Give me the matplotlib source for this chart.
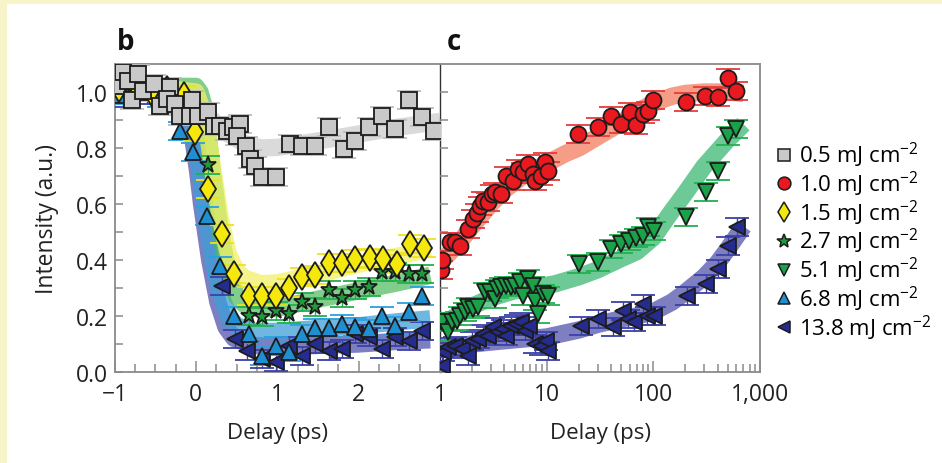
import matplotlib
matplotlib.use('Agg')
import matplotlib.pyplot as plt
from matplotlib.lines import Line2D
from matplotlib.patches import Rectangle
from matplotlib.ticker import FixedLocator, NullFormatter

plt.rcParams['font.family'] = ['Open Sans', 'DejaVu Sans']
plt.rcParams['mathtext.fontset'] = 'custom'
plt.rcParams['mathtext.rm'] = 'Open Sans'
plt.rcParams['mathtext.fallback'] = 'stixsans'

# ---- panel b (linear delay, ps) ----
sq_x = [-0.97, -0.89, -0.83, -0.71, -0.79, -0.645, -0.52, -0.44, -0.32, -0.36, -0.255, -0.19,
        -0.05, -0.07, 0.03, 0.155, 0.22, 0.30, 0.38, 0.46, 0.545, 0.505, 0.61, 0.67, 0.73,
        0.81, 0.98, 1.16, 1.305, 1.47, 1.63, 1.82, 1.96, 2.13, 2.29, 2.45, 2.62, 2.78, 2.93]
sq_y = [1.02, 1.07, 1.04, 1.064, 0.97, 1.005, 1.03, 0.95, 1.017, 0.975, 0.957, 0.915,
        0.97, 0.915, 0.915, 0.927, 0.88, 0.88, 0.862, 0.874, 0.886, 0.844, 0.808, 0.76, 0.737,
        0.695, 0.695, 0.814, 0.808, 0.808, 0.874, 0.796, 0.826, 0.874, 0.915, 0.868, 0.97, 0.91, 0.862]

dia_x = [-0.95, -0.75, -0.55, -0.35, -0.15, -0.01, 0.143, 0.32, 0.47, 0.65, 0.81, 0.98, 1.14,
         1.30, 1.47, 1.63, 1.80, 1.96, 2.14, 2.30, 2.47, 2.63, 2.80]
dia_y = [1.01, 1.03, 1.0, 1.01, 0.99, 0.856, 0.654, 0.493, 0.35, 0.273, 0.27, 0.273, 0.299,
         0.338, 0.346, 0.389, 0.389, 0.404, 0.406, 0.404, 0.386, 0.457, 0.442]

star_x = [-0.9, -0.6, -0.3, 0.155, 0.65, 0.81, 0.98, 1.14, 1.30, 1.47, 1.63, 1.80, 1.96,
          2.13, 2.29, 2.45, 2.62, 2.78]
star_y = [1.0, 1.01, 0.99, 0.739, 0.201, 0.195, 0.219, 0.207, 0.251, 0.231, 0.294, 0.263,
          0.294, 0.302, 0.356, 0.356, 0.35, 0.35]

up_x = [-0.95, -0.7, -0.45, -0.19, -0.03, 0.135, 0.30, 0.47, 0.65, 0.81, 0.98, 1.14, 1.30,
        1.47, 1.63, 1.80, 1.96, 2.13, 2.29, 2.45, 2.62, 2.78]
up_y = [0.99, 1.0, 0.98, 0.862, 0.785, 0.558, 0.38, 0.201, 0.136, 0.058, 0.094, 0.07, 0.136,
        0.156, 0.156, 0.171, 0.16, 0.154, 0.201, 0.165, 0.213, 0.27]

lt_x = [-0.9, -0.6, -0.35, 0.32, 0.48, 0.63, 0.81, 0.98, 1.14, 1.30, 1.47, 1.63, 1.80,
        1.96, 2.13, 2.29, 2.45, 2.62, 2.78]
lt_y = [0.98, 0.99, 0.97, 0.308, 0.118, 0.076, 0.046, 0.035, 0.094, 0.058, 0.10, 0.076,
        0.082, 0.136, 0.124, 0.082, 0.124, 0.112, 0.148]

# fitted curves, panel b
fit_sq_x = [-1, -0.5, -0.2, 0.0, 0.2, 0.4, 0.6, 0.8, 1.0, 1.5, 2.0, 2.5, 3.0]
fit_sq_y = [1.0, 1.0, 0.99, 0.96, 0.9, 0.85, 0.815, 0.80, 0.802, 0.825, 0.85, 0.875, 0.895]
fit_dia_x = [-1, -0.3, 0.0, 0.1, 0.15, 0.2, 0.3, 0.4, 0.5, 0.6, 0.8, 1.0, 1.5, 2.0, 2.5, 2.88]
fit_dia_y = [1.01, 1.01, 1.0, 0.92, 0.84, 0.74, 0.55, 0.42, 0.36, 0.335, 0.315, 0.318, 0.35,
             0.385, 0.415, 0.44]
fit_star_x = [-1, -0.3, 0.0, 0.05, 0.1, 0.15, 0.2, 0.3, 0.4, 0.5, 0.6, 0.8, 1.0, 1.5, 2.0, 2.5, 2.88]
fit_star_y = [1.02, 1.02, 1.02, 1.0, 0.95, 0.85, 0.72, 0.50, 0.35, 0.27, 0.24, 0.225, 0.228,
              0.26, 0.29, 0.32, 0.345]
fit_up_x = [-1, -0.3, -0.15, -0.05, 0.0, 0.05, 0.1, 0.2, 0.3, 0.4, 0.5, 0.7, 1.0, 1.5, 2.0, 2.5, 2.88]
fit_up_y = [1.0, 1.0, 0.98, 0.9, 0.82, 0.72, 0.6, 0.42, 0.28, 0.2, 0.165, 0.145, 0.145, 0.155,
            0.165, 0.18, 0.19]
fit_lt_x = [-1, -0.3, -0.18, -0.08, -0.03, 0.02, 0.07, 0.17, 0.27, 0.37, 0.47, 0.7, 1.0, 1.5, 2.0, 2.5, 2.88]
fit_lt_y = [1.0, 1.0, 0.98, 0.9, 0.82, 0.72, 0.6, 0.40, 0.25, 0.16, 0.12, 0.095, 0.09, 0.095,
            0.10, 0.11, 0.115]

# ---- panel c (log delay, ps) ----
circ_x = [1.02, 1.04, 1.24, 1.38, 1.54, 1.84, 2.05, 2.20, 2.37, 2.54, 2.83, 3.04, 3.26, 3.77,
          4.20, 4.85, 5.40, 6.01, 6.70, 7.45, 7.73, 8.9, 9.6, 10.3, 19.6, 30.2, 40.3, 49.9,
          61.0, 68.9, 79.3, 88.2, 98.6, 202, 302, 401, 497, 595]
circ_y = [0.365, 0.40, 0.465, 0.465, 0.451, 0.511, 0.546, 0.568, 0.594, 0.612, 0.606, 0.636,
          0.642, 0.636, 0.701, 0.683, 0.725, 0.713, 0.743, 0.707, 0.683, 0.701, 0.749, 0.719,
          0.85, 0.874, 0.913, 0.886, 0.93, 0.882, 0.921, 0.933, 0.972, 0.963, 0.987, 0.981,
          1.049, 1.005]

dn_x = [1.04, 1.20, 1.29, 1.43, 1.54, 1.71, 1.84, 2.05, 2.28, 2.63, 2.93, 3.26, 3.39, 3.77,
        4.20, 4.68, 5.0, 5.6, 6.0, 6.7, 7.45, 7.73, 8.3, 9.2, 10.3, 20.3, 30.2, 40.3, 49.9,
        59.7, 68.9, 79.3, 88.2, 101.7, 202, 311, 401, 497, 595]
dn_y = [0.177, 0.142, 0.177, 0.183, 0.201, 0.213, 0.231, 0.225, 0.231, 0.285, 0.285, 0.261,
        0.296, 0.302, 0.308, 0.302, 0.308, 0.32, 0.273, 0.332, 0.308, 0.255, 0.207, 0.279,
        0.273, 0.386, 0.392, 0.439, 0.457, 0.469, 0.477, 0.487, 0.517, 0.505, 0.553, 0.642,
        0.719, 0.844, 0.868]

lt2_x = [1.04, 1.07, 1.20, 1.38, 1.6, 1.84, 1.98, 2.28, 2.54, 2.83, 3.15, 3.51, 3.90, 4.20,
         4.68, 5.2, 5.8, 6.2, 6.9, 7.7, 8.9, 9.9, 10.3, 21, 30, 41.7, 51.6, 57.4, 66.5, 79.3,
         88, 101.7, 208, 311, 401, 497, 612]
lt2_y = [0.023, 0.07, 0.088, 0.094, 0.082, 0.058, 0.112, 0.118, 0.136, 0.13, 0.16, 0.142,
         0.154, 0.13, 0.165, 0.171, 0.177, 0.148, 0.165, 0.10, 0.094, 0.112, 0.076, 0.165,
         0.189, 0.16, 0.219, 0.189, 0.177, 0.243, 0.201, 0.201, 0.273, 0.314, 0.368, 0.451, 0.517]

fit_circ_x = [1, 1.5, 2, 3, 4, 6, 8, 10, 15, 20, 30, 50, 70, 100, 150, 200, 300, 500, 700]
fit_circ_y = [0.39, 0.46, 0.52, 0.60, 0.65, 0.70, 0.725, 0.745, 0.78, 0.80, 0.84, 0.89, 0.93,
              0.96, 0.985, 0.995, 1.0, 1.0, 0.995]
fit_dn_x = [1, 1.5, 2, 3, 5, 8, 12, 20, 30, 50, 70, 100, 140, 200, 300, 500, 700]
fit_dn_y = [0.165, 0.205, 0.235, 0.265, 0.29, 0.303, 0.315, 0.34, 0.365, 0.405, 0.43, 0.48,
            0.56, 0.64, 0.735, 0.83, 0.885]
fit_lt2_x = [1, 2, 3, 5, 10, 20, 30, 50, 70, 100, 150, 200, 300, 400, 500, 700]
fit_lt2_y = [0.085, 0.10, 0.107, 0.115, 0.125, 0.15, 0.17, 0.19, 0.20, 0.215, 0.25, 0.285,
             0.34, 0.39, 0.44, 0.52]

labels = [r'0.5 mJ cm$^{-2}$', r'1.0 mJ cm$^{-2}$', r'1.5 mJ cm$^{-2}$', r'2.7 mJ cm$^{-2}$',
          r'5.1 mJ cm$^{-2}$', r'6.8 mJ cm$^{-2}$', r'13.8 mJ cm$^{-2}$']

# marker, face, cap colour, size
sty = {
    'sq':   ('s', '#c9c9c9', '#bdbdbd', 11),
    'circ': ('o', '#e8191f', '#e83a3a', 11.5),
    'dia':  ('d', '#f4e80c', '#eee21a', 13),
    'star': ('*', '#1f9b3c', '#22b04c', 12.5),
    'dn':   ('v', '#1aa248', '#22b050', 11.5),
    'up':   ('^', '#1f8fd2', '#2aa0e0', 11.5),
    'lt':   ('<', '#262c8e', '#3a40a8', 11.5),
}

fig = plt.figure(figsize=(9.42, 4.64), dpi=100)
fig.patches.append(Rectangle((0, 0), 1, 1, transform=fig.transFigure,
                             facecolor='#f7f4c9', edgecolor='none', zorder=-10))
fig.patches.append(Rectangle((7 / 942, 0), 1, 1 - 5 / 464, transform=fig.transFigure,
                             facecolor='white', edgecolor='none', zorder=-9))

ax1 = fig.add_axes([114.5 / 942, 1 - 373 / 464, 325.5 / 942, 308 / 464])
ax2 = fig.add_axes([440 / 942, 1 - 373 / 464, 320 / 942, 308 / 464])
for ax in (ax1, ax2):
    ax.set_facecolor('none')


def band(ax, x, y, color, alpha):
    ax.plot(x, y, color=color, lw=12.5, alpha=alpha, solid_capstyle='butt', zorder=1)


def pts(ax, x, y, key, err=0.032):
    m, fc, cc, ms = sty[key]
    ax.errorbar(x, y, yerr=err, fmt=m, ms=ms, mfc=fc, mec='#1c1c1c', mew=1.3,
                ecolor=cc, elinewidth=1.0, capsize=8.5, capthick=1.6, zorder=3)


band(ax1, fit_sq_x, fit_sq_y, '#d6d6d6', 0.9)
band(ax1, fit_lt_x, fit_lt_y, '#5d5fb2', 0.8)
band(ax1, fit_up_x, fit_up_y, '#3f9fd8', 0.75)
band(ax1, fit_star_x, fit_star_y, '#4cb85a', 0.7)
band(ax1, fit_dia_x, fit_dia_y, '#f2f064', 0.75)

pts(ax1, lt_x, lt_y, 'lt')
pts(ax1, up_x, up_y, 'up')
pts(ax1, star_x, star_y, 'star')
pts(ax1, dia_x, dia_y, 'dia')
pts(ax1, sq_x, sq_y, 'sq')

band(ax2, fit_circ_x, fit_circ_y, '#f4856a', 0.8)
band(ax2, fit_dn_x, fit_dn_y, '#48bd7c', 0.8)
band(ax2, fit_lt2_x, fit_lt2_y, '#5d5fb2', 0.8)
pts(ax2, lt2_x, lt2_y, 'lt')
pts(ax2, dn_x, dn_y, 'dn')
pts(ax2, circ_x, circ_y, 'circ')

spine_c = '#8a8a8a'
ax1.set_xlim(-1, 3)
ax2.set_xscale('log')
ax2.set_xlim(1, 1000)
for ax in (ax1, ax2):
    ax.set_ylim(0, 1.1)
    for s in ax.spines.values():
        s.set_color(spine_c)
        s.set_linewidth(1.3)
    ax.tick_params(which='both', direction='in', colors=spine_c, labelcolor='#222222',
                   labelsize=16.5, top=False, right=False)
    ax.tick_params(axis='x', which='major', length=8, width=1.1, pad=7)
    ax.tick_params(axis='x', which='minor', length=5.5, width=1.1)
    ax.tick_params(axis='y', which='both', length=5.5, width=1.1, pad=5)
    ax.yaxis.set_major_locator(FixedLocator([0, 0.2, 0.4, 0.6, 0.8, 1.0]))
    ax.yaxis.set_minor_locator(FixedLocator([0.1, 0.3, 0.5, 0.7, 0.9]))
    ax.set_xlabel('Delay (ps)', fontsize=16, color='#222222', labelpad=12)

ax1.spines['right'].set_color('#333333')
ax1.spines['right'].set_linewidth(1.0)
ax2.spines['left'].set_visible(False)
ax1.set_yticklabels(['0.0', '0.2', '0.4', '0.6', '0.8', '1.0'])
ax2.yaxis.set_major_formatter(NullFormatter())
ax1.set_xticks([-1, 0, 1, 2])
ax1.set_xticklabels(['\u22121', '0', '1', '2'])
ax1.xaxis.set_minor_locator(FixedLocator([-0.75, -0.5, -0.25, 0.25, 0.5, 0.75, 1.25, 1.5,
                                          1.75, 2.25, 2.5, 2.75]))
ax2.set_xticks([1, 10, 100, 1000])
ax2.set_xticklabels(['1', '10', '100', '1,000'])
ax2.xaxis.set_minor_formatter(NullFormatter())
ax1.set_ylabel('Intensity (a.u.)', fontsize=16.5, color='#222222', labelpad=12)

fig.text(117 / 942, 1 - 50 / 464, 'b', fontsize=20, fontweight='bold', color='#111111')
fig.text(447 / 942, 1 - 50 / 464, 'c', fontsize=20, fontweight='bold', color='#111111')

order = ['sq', 'circ', 'dia', 'star', 'dn', 'up', 'lt']
handles = []
for key in order:
    m, fc, cc, ms = sty[key]
    handles.append(Line2D([], [], ls='none', marker=m, ms=ms * 0.8, mfc=fc,
                          mec='#1c1c1c', mew=1.1))
fig.legend(handles, labels, loc='upper left', bbox_to_anchor=(776 / 942, 1 - 141 / 464),
           frameon=False, fontsize=16, handlelength=0.75, handletextpad=0.3,
           labelspacing=-0.02, borderpad=0, borderaxespad=0)

fig.savefig('out.png', dpi=100)
